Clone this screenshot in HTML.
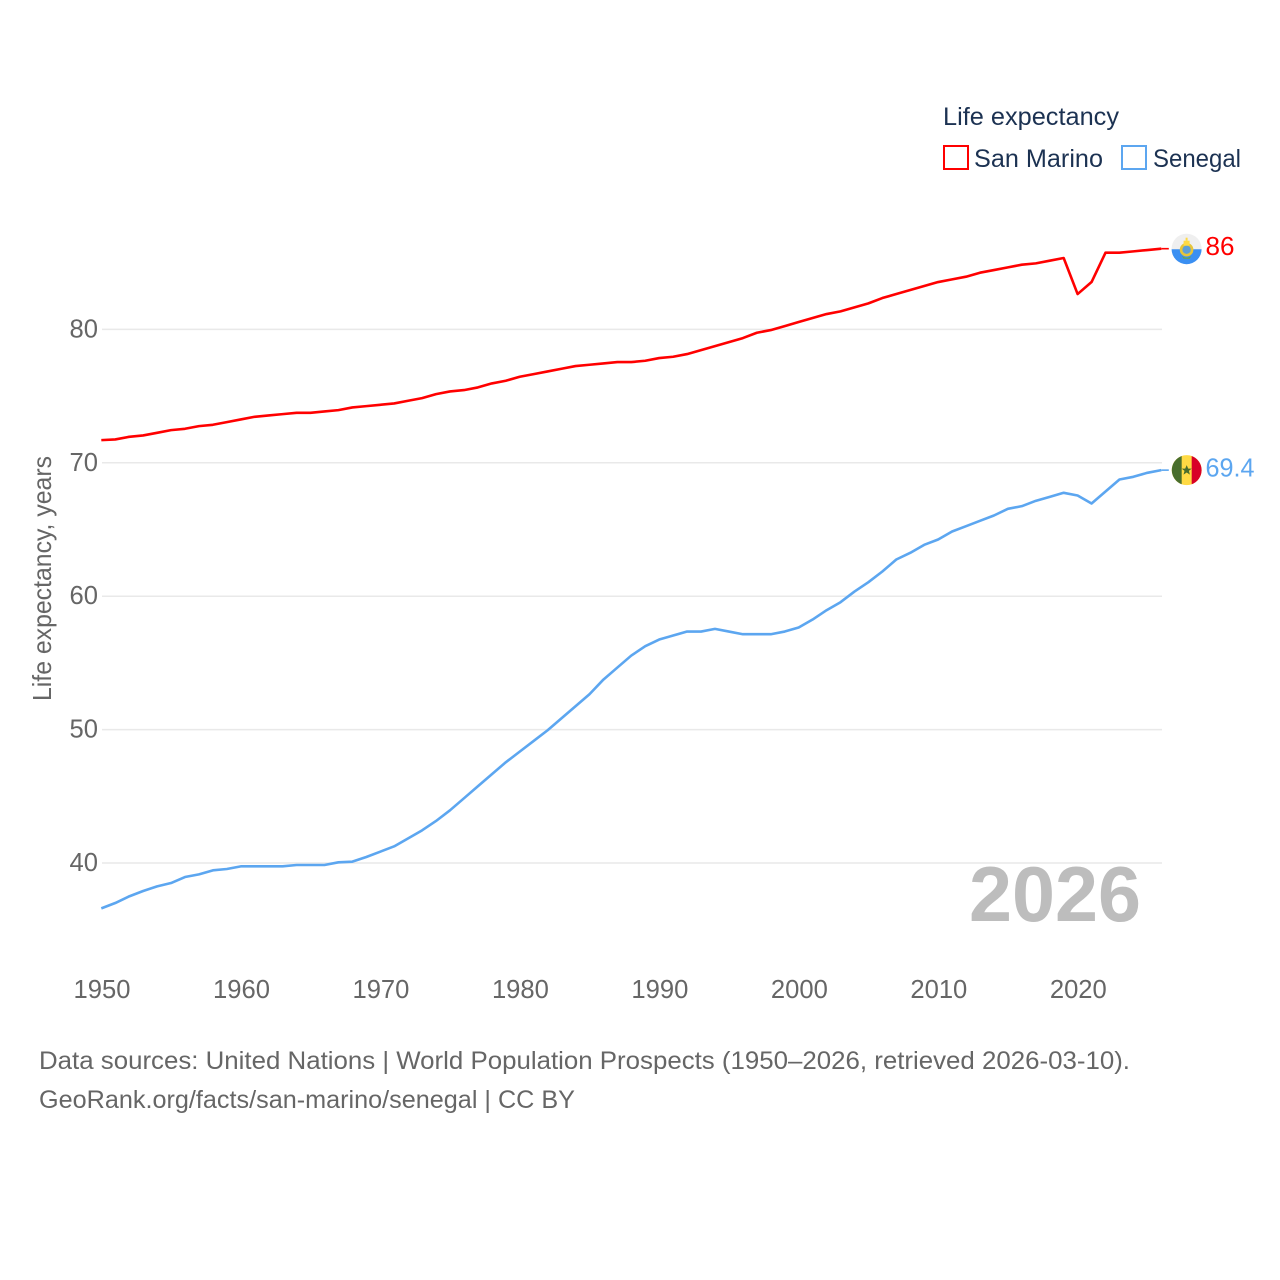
<!DOCTYPE html>
<html lang="en">
<head>
<meta charset="utf-8">
<title>Life expectancy: San Marino and Senegal</title>
<style>
html,body{margin:0;padding:0;background:#fff;}
svg{display:block;font-family:"Liberation Sans",Arial,sans-serif;}
.tick{font-size:25.6px;fill:#666;}
.legend{font-size:25px;fill:#1c3252;}
.foot{font-size:25px;fill:#666;}
</style>
</head>
<body>
<svg id="chart" xmlns="http://www.w3.org/2000/svg" width="1280" height="1280" viewBox="0 0 1280 1280">
  <rect x="0" y="0" width="1280" height="1280" fill="#fff"/>
  <g id="grid"></g>
  <g id="yticks"></g>
  <g id="xticks"></g>
  <text class="tick" transform="translate(51,701) rotate(-90)" textLength="245" lengthAdjust="spacingAndGlyphs">Life expectancy, years</text>
  <text x="969" y="921" font-size="78" font-weight="700" fill="#bdbdbd" textLength="172" lengthAdjust="spacingAndGlyphs">2026</text>

  <g>
    <text class="legend" x="943" y="125" textLength="176" lengthAdjust="spacingAndGlyphs">Life expectancy</text>
    <g>
      <rect x="944" y="146" width="24" height="23" fill="#fff" stroke="#ff0000" stroke-width="2"/>
      <text class="legend" x="974" y="167" textLength="129" lengthAdjust="spacingAndGlyphs">San Marino</text>
    </g>
    <g>
      <rect x="1122" y="146" width="24" height="23" fill="#fff" stroke="#5ca6f0" stroke-width="2"/>
      <text class="legend" x="1153" y="167" textLength="88" lengthAdjust="spacingAndGlyphs">Senegal</text>
    </g>
  </g>

  <g id="series"></g>
  <g id="ends"></g>

  <text class="foot" x="39" y="1069" textLength="1091" lengthAdjust="spacingAndGlyphs">Data sources: United Nations | World Population Prospects (1950–2026, retrieved 2026-03-10).</text>
  <text class="foot" x="39" y="1108" textLength="536" lengthAdjust="spacingAndGlyphs">GeoRank.org/facts/san-marino/senegal | CC BY</text>
</svg>
<script>
var startYear = 1950;
var yTicks = [40, 50, 60, 70, 80];
var xTicks = [1950, 1960, 1970, 1980, 1990, 2000, 2010, 2020];
var sanMarino = [71.7,71.75,71.95,72.05,72.25,72.45,72.55,72.75,72.85,73.05,73.25,73.45,73.55,73.65,73.75,73.75,73.85,73.95,74.15,74.25,74.35,74.45,74.65,74.85,75.15,75.35,75.45,75.65,75.95,76.15,76.45,76.65,76.85,77.05,77.25,77.35,77.45,77.55,77.55,77.65,77.85,77.95,78.15,78.45,78.75,79.05,79.35,79.75,79.95,80.25,80.55,80.85,81.15,81.35,81.65,81.95,82.35,82.65,82.95,83.25,83.55,83.75,83.95,84.25,84.45,84.65,84.85,84.95,85.15,85.35,82.65,83.55,85.75,85.75,85.85,85.95,86.05];
var senegal = [36.6,37.0,37.5,37.9,38.25,38.5,38.95,39.15,39.45,39.55,39.75,39.75,39.75,39.75,39.85,39.85,39.85,40.05,40.1,40.45,40.85,41.25,41.85,42.45,43.15,43.95,44.85,45.75,46.65,47.55,48.35,49.15,49.95,50.85,51.75,52.65,53.75,54.65,55.55,56.25,56.75,57.05,57.35,57.35,57.55,57.35,57.15,57.15,57.15,57.35,57.65,58.25,58.95,59.55,60.35,61.05,61.85,62.75,63.25,63.85,64.25,64.85,65.25,65.65,66.05,66.55,66.75,67.15,67.45,67.75,67.55,66.95,67.85,68.75,68.95,69.25,69.45];
var endLabels = ["86", "69.4"];

var NS = "http://www.w3.org/2000/svg";
function xPos(year) { return 101.3 + (year - 1950) * (1060 / 76); }
function yPos(v) { return 863 - (v - 40) * 13.34; }
function make(tag, attrs, parent, text) {
  var el = document.createElementNS(NS, tag);
  for (var k in attrs) { el.setAttribute(k, attrs[k]); }
  if (text !== undefined) { el.textContent = text; }
  parent.appendChild(el);
  return el;
}

var gridG = document.getElementById("grid");
var yG = document.getElementById("yticks");
var xG = document.getElementById("xticks");
var seriesG = document.getElementById("series");
var endsG = document.getElementById("ends");

yTicks.forEach(function (t) {
  var gl = make("line", {x1: 102, x2: 1162, y1: yPos(t), y2: yPos(t), stroke: "#e9e9e9", "stroke-width": 1.5}, gridG);
  
  
  var lb = make("text", {x: 98, y: yPos(t) + 8, "text-anchor": "end", "class": "tick"}, yG, String(t));
  
  
});

xTicks.forEach(function (t) {
  var lb = make("text", {x: 102 + (t - 1950) * (1060 / 76), y: 998, "text-anchor": "middle", "class": "tick"}, xG, String(t));
  
  
});

function drawLine(values, color, name) {
  var pts = values.map(function (v, i) {
    return xPos(startYear + i).toFixed(2) + "," + yPos(v).toFixed(2);
  }).join(" ");
  var pl = make("polyline", {points: pts, fill: "none", stroke: color, "stroke-width": 2.6, "stroke-linejoin": "round"}, seriesG);
  
  
  var ly = yPos(values[values.length - 1]);
  var lastX = xPos(startYear + values.length - 1);
  var con = make("line", {x1: lastX, x2: lastX + 7.5, y1: ly, y2: ly, stroke: color, "stroke-width": 1.6}, seriesG);
  
  
}
drawLine(sanMarino, "#ff0000", "line-san-marino");
drawLine(senegal, "#5ca6f0", "line-senegal");

/* San Marino end marker */
var smY = yPos(sanMarino[sanMarino.length - 1]);
var smFlag = make("g", {transform: "translate(1186.6," + smY + ")"}, endsG);


make("circle", {cx: 0, cy: 0, r: 15, fill: "#efefef"}, smFlag);
make("path", {d: "M-15 0.5A15 15 0 0 0 15 0.5Z", fill: "#3a8ff2"}, smFlag);
make("circle", {cx: 0, cy: 1, r: 5.5, fill: "#5d9fd8", stroke: "#e6c53a", "stroke-width": 2.6}, smFlag);
make("path", {d: "M-5 7Q0 11 5 7L3 10H-3Z", fill: "#6da544"}, smFlag);
make("rect", {x: -3, y: -8, width: 6, height: 5, fill: "#ffda44"}, smFlag);
make("rect", {x: -1, y: -11, width: 2, height: 3, fill: "#ffda44"}, smFlag);
var smLabel = make("text", {x: 1205.5, y: smY + 6.5, "font-size": 25.6, fill: "#ff0000", textLength: 29, lengthAdjust: "spacingAndGlyphs"}, endsG, endLabels[0]);



/* Senegal end marker */
var snY = yPos(senegal[senegal.length - 1]);
var snFlag = make("g", {transform: "translate(1186.7," + snY + ")"}, endsG);


make("circle", {cx: 0, cy: 0, r: 15, fill: "#ffda44"}, snFlag);
make("path", {d: "M-5 -14.1A15 15 0 0 0 -5 14.1Z", fill: "#496e2d"}, snFlag);
make("path", {d: "M5 -14.1A15 15 0 0 1 5 14.1Z", fill: "#d80027"}, snFlag);
make("polygon", {points: "0,-5 1.5,-1.5 5,-1.5 2.2,0.8 3.2,4.5 0,2.4 -3.2,4.5 -2.2,0.8 -5,-1.5 -1.5,-1.5", fill: "#496e2d"}, snFlag);
var snLabel = make("text", {x: 1205.5, y: snY + 6.5, "font-size": 25.6, fill: "#5ca6f0", textLength: 49, lengthAdjust: "spacingAndGlyphs"}, endsG, endLabels[1]);


</script>
</body>
</html>
